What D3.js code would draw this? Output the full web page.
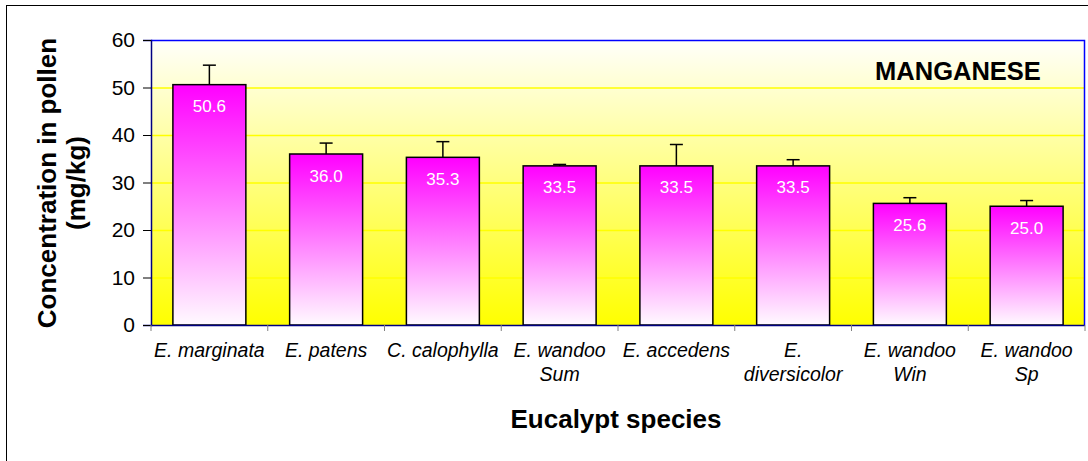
<!DOCTYPE html>
<html><head><meta charset="utf-8">
<script src="https://cdn.jsdelivr.net/npm/d3@7"></script>
<style>body{margin:0;background:#fff}svg{display:block;font-family:"Liberation Sans",Arial,sans-serif}</style>
</head><body><div id="c"></div>
<script>
const categories = [["E. marginata"],["E. patens"],["C. calophylla"],["E. wandoo","Sum"],["E. accedens"],["E.","diversicolor"],["E. wandoo","Win"],["E. wandoo","Sp"]];
const values = [50.6, 36.0, 35.3, 33.5, 33.5, 33.5, 25.6, 25.0];
const errors = [4.1, 2.3, 3.3, 0.3, 4.5, 1.3, 1.2, 1.2];
const yTicks = [0,10,20,30,40,50,60];
const title = "MANGANESE";

const W=1088,H=461;
const m={l:151,t:40,r:1085,b:325};
const svg=d3.select("#c").append("svg").attr("width",W).attr("height",H);
const defs=svg.append("defs");
const bg=defs.append("linearGradient").attr("id","bg").attr("x1",0).attr("y1",0).attr("x2",0).attr("y2",1);
bg.append("stop").attr("offset","0%").attr("stop-color","#fffffb");
bg.append("stop").attr("offset","100%").attr("stop-color","#ffff00");
const bar=defs.append("linearGradient").attr("id","bar").attr("x1",0).attr("y1",0).attr("x2",0).attr("y2",1);
bar.append("stop").attr("offset","0%").attr("stop-color","#ff00ff");
bar.append("stop").attr("offset","100%").attr("stop-color","#fffaff");

svg.append("rect").attr("x",6.5).attr("y",5.5).attr("width",1100).attr("height",470).attr("fill","#fff").attr("stroke","#000").attr("stroke-width",1);

const x=d3.scaleBand().domain(d3.range(categories.length)).range([m.l,m.r]).paddingInner(0.375).paddingOuter(0.1875);
const y=d3.scaleLinear().domain([0,60]).range([m.b,m.t]);

svg.append("rect").attr("x",m.l).attr("y",m.t).attr("width",m.r-m.l).attr("height",m.b-m.t).attr("fill","url(#bg)");
svg.append("g").selectAll("line").data(yTicks.filter(d=>d>0&&d<60)).join("line")
  .attr("x1",m.l).attr("x2",m.r).attr("y1",d=>y(d)+0.5).attr("y2",d=>y(d)+0.5).attr("stroke","#ffff00").attr("stroke-width",1.5);
svg.append("path").attr("d",`M${m.l},${m.t+0.5}H${m.r-0.5}V${m.b}`).attr("fill","none").attr("stroke","#0000ff").attr("stroke-width",1.5);

// error bars
const eg=svg.append("g").attr("stroke","#000").attr("stroke-width",1.5);
values.forEach((v,i)=>{
  const cx=x(i)+x.bandwidth()/2;
  eg.append("line").attr("x1",cx).attr("x2",cx).attr("y1",y(v)).attr("y2",y(v+errors[i]));
  eg.append("line").attr("x1",cx-6.5).attr("x2",cx+6.5).attr("y1",y(v+errors[i])).attr("y2",y(v+errors[i]));
});
// bars
svg.append("g").selectAll("rect").data(values).join("rect")
  .attr("x",(d,i)=>x(i)).attr("y",d=>y(d)).attr("width",x.bandwidth()).attr("height",d=>y(0)-y(d))
  .attr("fill","url(#bar)").attr("stroke","#000").attr("stroke-width",1.5);
svg.append("g").selectAll("text").data(values).join("text")
  .attr("x",(d,i)=>x(i)+x.bandwidth()/2).attr("y",d=>y(d)+27.5).attr("text-anchor","middle")
  .attr("fill","#fff").attr("font-size",17).text(d=>d.toFixed(1));

// y axis
const ya=svg.append("g").attr("transform",`translate(${m.l},0)`).call(d3.axisLeft(y).tickValues(yTicks).tickSize(8).tickPadding(8));
ya.select(".domain").attr("stroke","#000080").attr("stroke-width",1.5);
ya.selectAll(".tick line").attr("stroke","#000");
ya.selectAll("text").attr("font-size",21).attr("fill","#000").attr("font-family","Liberation Sans, Arial, sans-serif");

// x axis
svg.append("line").attr("x1",m.l).attr("x2",m.r).attr("y1",m.b+0.5).attr("y2",m.b+0.5).attr("stroke","#000080").attr("stroke-width",1.5);
const step=x.step();
svg.append("g").selectAll("line").data(d3.range(categories.length+1)).join("line")
  .attr("x1",i=>m.l+i*step).attr("x2",i=>m.l+i*step).attr("y1",m.b).attr("y2",m.b+6).attr("stroke","#808080");
const xl=svg.append("g").selectAll("text").data(categories).join("text")
  .attr("x",(d,i)=>x(i)+x.bandwidth()/2).attr("y",357).attr("text-anchor","middle")
  .attr("font-size",19.5).attr("font-style","italic").attr("fill","#000");
xl.each(function(d){
  const t=d3.select(this);
  d.forEach((s,j)=>t.append("tspan").attr("x",t.attr("x")).attr("dy",j?24:0).text(s));
});

svg.append("text").attr("x",616).attr("y",428).attr("text-anchor","middle").attr("font-size",26).attr("font-weight","bold").text("Eucalypt species");
const yt=svg.append("text").attr("transform","translate(46,183) rotate(-90)").attr("text-anchor","middle").attr("font-size",26).attr("font-weight","bold");
yt.append("tspan").attr("x",0).attr("dy",10).text("Concentration in pollen");
yt.append("tspan").attr("x",0).attr("dy",29).text("(mg/kg)");
svg.append("text").attr("x",958).attr("y",80).attr("text-anchor","middle").attr("font-size",25.5).attr("font-weight","bold").text(title);
</script></body></html>
